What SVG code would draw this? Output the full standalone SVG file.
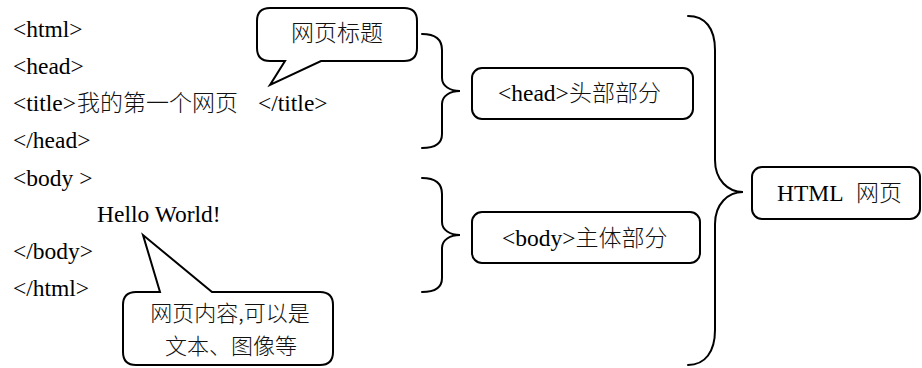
<svg xmlns="http://www.w3.org/2000/svg" width="922" height="368" viewBox="0 0 922 368">
<style>
  .t { font-family: "Liberation Serif", "Noto Sans CJK SC", serif; font-size: 23.5px; fill: #000; }
  .c { font-family: "Noto Sans CJK SC", sans-serif; font-size: 23px; font-weight: 300; fill: #111; }
  .cs { font-size: 22px; }
  .box { fill: #fff; stroke: #000; stroke-width: 2; }
  .brace { fill: none; stroke: #000; stroke-width: 2; stroke-linecap: round; }
</style>
<rect width="922" height="368" fill="#fff"/>
<g id="code">
  <text class="t" x="13" y="37">&lt;html&gt;</text>
  <text class="t" x="13" y="74">&lt;head&gt;</text>
  <text class="t" x="13" y="111">&lt;title&gt;<tspan class="c" x="77">我的第一个网页</tspan><tspan x="258">&lt;/title&gt;</tspan></text>
  <text class="t" x="13" y="148">&lt;/head&gt;</text>
  <text class="t" x="13" y="186">&lt;body &gt;</text>
  <text class="t" x="97" y="222">Hello World!</text>
  <text class="t" x="13" y="259">&lt;/body&gt;</text>
  <text class="t" x="13" y="296">&lt;/html&gt;</text>
</g>
<g id="callout-title">
  <path class="box" d="M 270,8 H 404 Q 417,8 417,21 V 48 Q 417,61 404,61 H 321 L 270,85 L 285,61 H 270 Q 257,61 257,48 V 21 Q 257,8 270,8 Z"/>
  <text class="c" x="337" y="41" text-anchor="middle">网页标题</text>
</g>
<g id="callout-content">
  <path class="box" d="M 136,292 H 160 L 143,235 L 212,292 H 320 Q 333,292 333,305 V 352 Q 333,365 320,365 H 136 Q 123,365 123,352 V 305 Q 123,292 136,292 Z"/>
  <text class="c cs" x="230" y="321" text-anchor="middle">网页内容,可以是</text>
  <text class="c cs" x="231" y="354" text-anchor="middle">文本、图像等</text>
</g>
<g id="head-box">
  <rect class="box" x="472" y="68" width="221" height="51" rx="10"/>
  <text class="t" x="498" y="101">&lt;head&gt;<tspan class="c">头部部分</tspan></text>
</g>
<g id="body-box">
  <rect class="box" x="472" y="212" width="228" height="51" rx="10"/>
  <text class="t" x="502" y="246">&lt;body&gt;<tspan class="c">主体部分</tspan></text>
</g>
<g id="html-box">
  <rect class="box" x="752" y="167" width="168" height="52" rx="10"/>
  <text class="t" x="777" y="201">HTML<tspan class="c" x="856">网页</tspan></text>
</g>
<g id="connectors">
  <path class="brace" d="M 422,34 C 434,34 442,38 442,50 V 78 C 442,86 450,91 460,91 C 450,91 442,96 442,104 V 134 C 442,144 434,148 422,148"/>
  <path class="brace" d="M 422,178 C 434,178 442,182 442,194 V 222 C 442,230 450,235 460,235 C 450,235 442,240 442,248 V 278 C 442,288 434,292 422,292"/>
  <path class="brace" d="M 688,16 C 705,16 715,28 715,50 V 160 C 715,180 728,192 743,192 C 728,192 715,204 715,224 V 330 C 715,352 705,365 688,365"/>
</g>
</svg>
